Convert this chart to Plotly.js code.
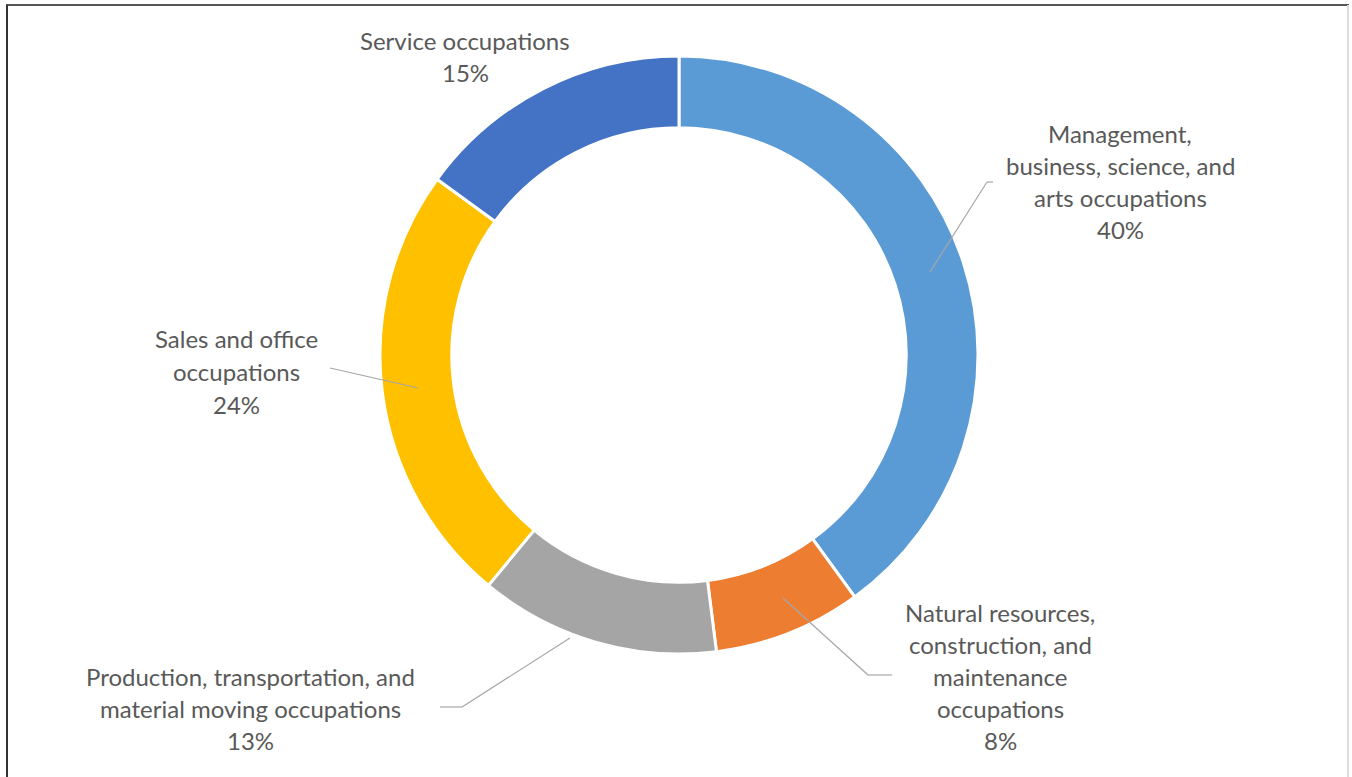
<!DOCTYPE html>
<html>
<head>
<meta charset="utf-8">
<script src="https://cdn.plot.ly/plotly-3.0.1.min.js"></script>
<style>html,body{margin:0;padding:0;background:#fff;}#chart{width:1352px;height:777px;}</style>
</head>
<body>
<div id="chart"></div>
<script>
const categories = [
  "Management, business, science, and arts occupations",
  "Natural resources, construction, and maintenance occupations",
  "Production, transportation, and material moving occupations",
  "Sales and office occupations",
  "Service occupations"
];
const shares = [40, 8, 13, 24, 15];
const colors = ["#5B9BD5", "#ED7D31", "#A5A5A5", "#FFC000", "#4472C4"];
const labelLines = [
  ["Management,", "business, science, and", "arts occupations"],
  ["Natural resources,", "construction, and", "maintenance", "occupations"],
  ["Production, transportation, and", "material moving occupations"],
  ["Sales and office", "occupations"],
  ["Service occupations"]
];

const W = 1352, H = 777;
const px = x => x / W;
const py = y => 1 - y / H;

// label layout (pixel positions of first line centre) and leader lines
const labelPos = [
  {x: 1120, y: 134, gap: 32},
  {x: 1000, y: 612, gap: 32},
  {x: 250, y: 676, gap: 32},
  {x: 236, y: 338, gap: 33},
  {x: 465, y: 41, gap: 32}
];
const leaders = [
  [[930, 272], [987, 182], [993, 182]],
  [[783, 598], [868, 675], [892, 675]],
  [[570, 638], [462, 707], [440, 707]],
  [[418, 388], [330, 368]],
  null
];

const annotations = [];
labelLines.forEach((lines, i) => {
  const all = lines.concat([shares[i] + "%"]);
  all.forEach((t, j) => {
    annotations.push({
      xref: "paper", yref: "paper",
      x: px(labelPos[i].x), y: py(labelPos[i].y + j * labelPos[i].gap),
      xanchor: "center", yanchor: "middle",
      text: t, showarrow: false,
      font: {family: "Lato, Carlito, Calibri, sans-serif", size: 24, color: "#595959"}
    });
  });
});

const shapes = [];
leaders.forEach(pts => {
  if (!pts) return;
  for (let k = 0; k < pts.length - 1; k++) {
    shapes.push({
      type: "line", xref: "paper", yref: "paper",
      x0: px(pts[k][0]), y0: py(pts[k][1]), x1: px(pts[k+1][0]), y1: py(pts[k+1][1]),
      line: {color: "#A6A6A6", width: 1.2}, layer: "above"
    });
  }
});
// frame
shapes.push({type: "line", xref: "paper", yref: "paper", x0: px(6), y0: py(5), x1: px(1349), y1: py(5), line: {color: "#555", width: 2}});
shapes.push({type: "line", xref: "paper", yref: "paper", x0: px(7), y0: py(5), x1: px(7), y1: py(777), line: {color: "#333", width: 2}});
shapes.push({type: "line", xref: "paper", yref: "paper", x0: px(1348), y0: py(5), x1: px(1348), y1: py(777), line: {color: "#ddd", width: 2}});

const trace = {
  type: "pie",
  labels: categories,
  values: shares,
  sort: false,
  direction: "clockwise",
  rotation: 0,
  hole: 0.76,
  textinfo: "none",
  marker: {colors: colors, line: {color: "#ffffff", width: 3}},
  domain: {x: [px(380), px(978)], y: [py(655), py(55)]},
  showlegend: false
};

Plotly.newPlot("chart", [trace], {
  width: W, height: H,
  margin: {l: 0, r: 0, t: 0, b: 0},
  paper_bgcolor: "#ffffff",
  showlegend: false,
  annotations: annotations,
  shapes: shapes
}, {displayModeBar: false, staticPlot: true});
</script>
</body>
</html>
